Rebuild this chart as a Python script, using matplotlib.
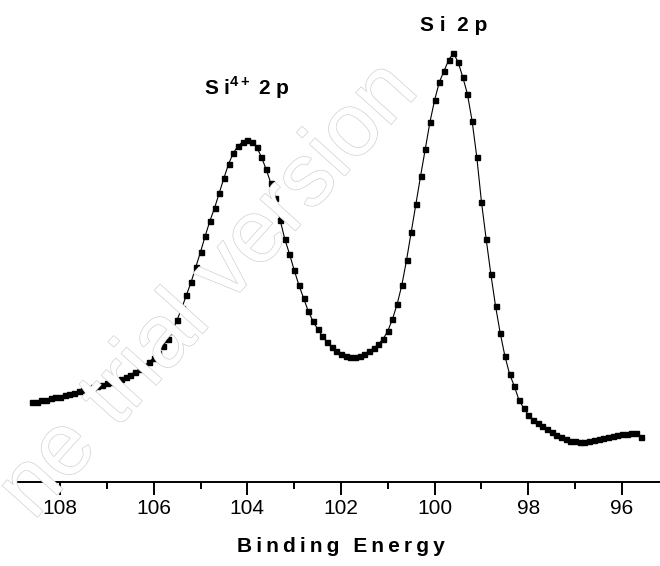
import numpy as np
import matplotlib
matplotlib.use('Agg')
import matplotlib.pyplot as plt
import matplotlib.patheffects as pe
from matplotlib.ticker import MultipleLocator

# data (binding energy in eV, intensity in arb. units)
energy = np.round(np.arange(108.6, 95.55, -0.1), 1)
intensity = [80, 80, 82, 82, 84, 85, 85, 87, 88, 89,
             91, 92, 93, 95, 96, 97, 99, 100, 102, 103,
             105, 107, 110, 113, 116, 120, 124, 129, 136, 143,
             151, 162, 174, 187, 200, 215, 230, 246, 261, 274,
             289, 304, 318, 329, 336, 340, 342, 340, 335, 325,
             313, 299, 284, 262, 243, 228, 212, 197, 184, 171,
             161, 153, 146, 140, 135, 131, 128, 126, 125, 125,
             126, 128, 131, 134, 138, 143, 151, 163, 178, 197,
             222, 250, 278, 306, 333, 360, 382, 400, 411, 422,
             429, 420, 405, 388, 361, 325, 280, 243, 208, 176,
             149, 126, 108, 96, 82, 74, 67, 62, 59, 56,
             53, 50, 47, 45, 43, 41, 41, 40, 40, 41,
             42, 43, 44, 45, 46, 47, 48, 48, 49, 49,
             45]

peak_labels = [r'S i$^{\mathbf{4+}}$ 2 p', 'S i  2 p']
peak_pos = [(104.0, 394), (99.6, 457)]

plt.rcParams['font.family'] = ['Liberation Sans', 'DejaVu Sans']
plt.rcParams['mathtext.fontset'] = 'custom'
plt.rcParams['mathtext.rm'] = 'Liberation Sans'
plt.rcParams['mathtext.bf'] = 'Liberation Sans:bold'

fig = plt.figure(figsize=(6.6, 5.66), dpi=100)
ax = fig.add_axes([0.02, 0.1484, 0.9933, 0.8516])

ax.plot(energy, intensity, color='black', lw=0.8, marker='s', ms=3.6,
        mec='black', mfc='black')

for lab, (x, y) in zip(peak_labels, peak_pos):
    ax.text(x, y, lab, ha='center', va='center', fontsize=15, fontweight='bold')

ax.set_xlim(109, 95)
ax.set_ylim(0, 482)
ax.xaxis.set_major_locator(MultipleLocator(2))
ax.xaxis.set_minor_locator(MultipleLocator(1))
ax.tick_params(axis='x', which='major', direction='out', length=9, width=1.4,
               labelsize=15, pad=3)
ax.tick_params(axis='x', which='minor', direction='out', length=5, width=1.4)
ax.set_yticks([])
for s in ['left', 'right', 'top']:
    ax.spines[s].set_visible(False)
ax.spines['bottom'].set_linewidth(1.4)
ax.set_xlabel('\u2009'.join('Binding Energy'), fontsize=15, fontweight='bold',
              labelpad=14)

# faint watermark
wm = fig.text(420 / 660, 1 - 92 / 566, 'ne trial version', fontsize=64,
              rotation=48, rotation_mode='anchor', ha='right', va='baseline',
              color='white', zorder=10)
wm.set_path_effects([pe.Stroke(linewidth=1.0, foreground='#d0d0d0'), pe.Normal()])

fig.savefig('out.png', dpi=100)
